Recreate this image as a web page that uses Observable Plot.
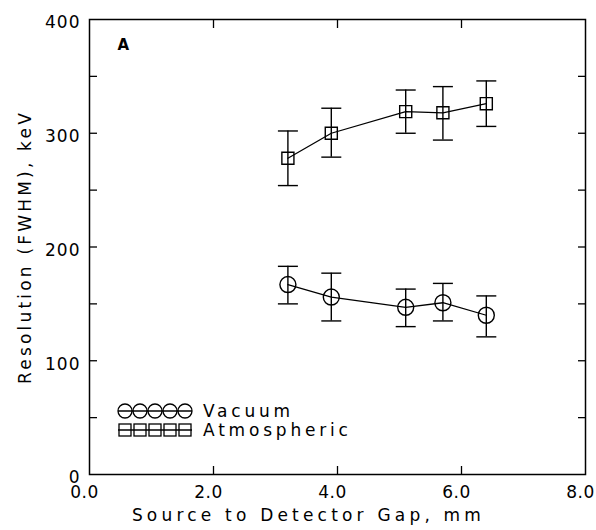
<!DOCTYPE html>
<html>
<head>
<meta charset="utf-8">
<script src="https://cdn.jsdelivr.net/npm/d3@7"></script>
<script src="https://cdn.jsdelivr.net/npm/@observablehq/plot@0.6"></script>
<style>
  html, body { margin: 0; padding: 0; background: #fff; }
  #chart { position: relative; width: 596px; height: 530px; }
</style>
</head>
<body>
<div id="chart"></div>
<script>
// ---- data ----
const gap = [3.2, 3.9, 5.1, 5.7, 6.4];
const vacuum = [167, 156, 147, 151, 140];
const vacuumLo = [150, 135, 130, 135, 121];
const vacuumHi = [183, 177, 163, 168, 157];
const atmospheric = [278, 300, 319, 318, 326];
const atmosphericLo = [254, 279, 300, 294, 306];
const atmosphericHi = [302, 322, 338, 341, 346];
const xTickLabels = [0, 2, 4, 6, 8];
const xMinorTicks = [2, 4, 6];
const yTickLabels = [0, 100, 200, 300, 400];
const yMinorTicks = [50, 100, 150, 200, 250, 300, 350];
const seriesNames = ["Vacuum", "Atmospheric"];
const panelLabel = "A";

const rows = (vals, lo, hi, name) => gap.map((g, i) => ({gap: g, v: vals[i], lo: lo[i], hi: hi[i], series: name}));
const vacRows = rows(vacuum, vacuumLo, vacuumHi, seriesNames[0]);
const atmRows = rows(atmospheric, atmosphericLo, atmosphericHi, seriesNames[1]);

// horizontal line symbol for error-bar caps
const capSymbol = {
  draw(ctx, size) {
    const w = Math.sqrt(size / Math.PI);
    ctx.moveTo(-w, 0);
    ctx.lineTo(w, 0);
  }
};

const font = "'DejaVu Sans', sans-serif";

const chart = Plot.plot({
  width: 596,
  height: 530,
  marginLeft: 89,
  marginRight: 11,
  marginTop: 19,
  marginBottom: 56,
  style: {fontFamily: font, fontSize: "17px", color: "#000", background: "#fff"},
  x: {domain: [0, 8]},
  y: {domain: [0, 400]},
  marks: [
    Plot.frame({stroke: "#000", strokeWidth: 1.5}),
    // y labels
    Plot.axisY({ticks: yTickLabels, tickSize: 0, tickPadding: 9, tickFormat: d => String(d),
      label: "Resolution (FWHM), keV", labelAnchor: "center", labelOffset: 71, labelArrow: "none"}),
    Plot.axisY({anchor: "left", ticks: yMinorTicks, tickSize: -8, tickFormat: () => "", label: null, strokeWidth: 1.3}),
    Plot.axisY({anchor: "right", ticks: yMinorTicks, tickSize: -8, tickFormat: () => "", label: null, strokeWidth: 1.3}),
    // x labels
    Plot.axisX({ticks: xTickLabels, tickSize: 0, tickPadding: 11, tickFormat: d3.format(".1f"),
      label: "Source to Detector Gap, mm", labelAnchor: "center", labelOffset: 46, labelArrow: "none"}),
    Plot.axisX({anchor: "bottom", ticks: xMinorTicks, tickSize: -8, tickFormat: () => "", label: null, strokeWidth: 1.3}),
    Plot.axisX({anchor: "top", ticks: xMinorTicks, tickSize: -8, tickFormat: () => "", label: null, strokeWidth: 1.3}),
    // panel label
    Plot.text([panelLabel], {frameAnchor: "top-left", dx: 28, dy: 20, text: d => d, fontWeight: "bold", fontSize: 15, fill: "#000"}),
    // error bars
    Plot.ruleX([...vacRows, ...atmRows], {x: "gap", y1: "lo", y2: "hi", stroke: "#000", strokeWidth: 1.4}),
    Plot.dot([...vacRows, ...atmRows], {x: "gap", y: "lo", symbol: capSymbol, r: 10, stroke: "#000", strokeWidth: 1.4, fill: "none"}),
    Plot.dot([...vacRows, ...atmRows], {x: "gap", y: "hi", symbol: capSymbol, r: 10, stroke: "#000", strokeWidth: 1.4, fill: "none"}),
    // lines
    Plot.line(vacRows, {x: "gap", y: "v", stroke: "#000", strokeWidth: 1.3}),
    Plot.line(atmRows, {x: "gap", y: "v", stroke: "#000", strokeWidth: 1.3}),
    // markers
    Plot.dot(vacRows, {x: "gap", y: "v", symbol: "circle", r: 8, stroke: "#000", strokeWidth: 1.4, fill: "none"}),
    Plot.dot(atmRows, {x: "gap", y: "v", symbol: "square", r: 6.8, stroke: "#000", strokeWidth: 1.4, fill: "none"})
  ]
});

document.getElementById("chart").appendChild(chart);

const svg = d3.select(chart);
svg.selectAll("[aria-label='y-axis tick label'] text").style("letter-spacing", "1px").attr("dy", "0.2em");
svg.selectAll("[aria-label='x-axis tick label'] text").style("letter-spacing", "0.5px").attr("dx", -5);
svg.selectAll("[aria-label='x-axis label'] text").style("letter-spacing", "4.2px").attr("dx", -29);
svg.selectAll("[aria-label='y-axis label'] text").style("letter-spacing", "3.2px");

// legend drawn inside the frame
const legend = svg.append("g").attr("transform", "translate(118,411)")
  .attr("fill", "none").attr("stroke", "#000").attr("stroke-width", 1.3);
const legendSlots = d3.range(5);
const rowH = 19;
// circles row
legend.append("line").attr("x1", 0).attr("x2", 74).attr("y1", 0).attr("y2", 0);
legend.selectAll("circle.l").data(legendSlots).join("circle").attr("class", "l")
  .attr("cx", d => 7 + d * 15).attr("cy", 0).attr("r", 7);
// squares row
legend.append("line").attr("x1", 0).attr("x2", 74).attr("y1", rowH).attr("y2", rowH);
legend.selectAll("rect.l").data(legendSlots).join("rect").attr("class", "l")
  .attr("x", d => 1 + d * 15).attr("y", rowH - 6).attr("width", 12).attr("height", 12);
legend.selectAll("text").data(seriesNames).join("text")
  .attr("x", 85).attr("y", (d, i) => i * rowH).attr("dy", "0.35em")
  .attr("text-anchor", "start")
  .attr("fill", "#000").attr("stroke", "none")
  .style("font-family", font).style("font-size", "17px").style("letter-spacing", "3.8px")
  .text(d => d);
</script>
</body>
</html>
